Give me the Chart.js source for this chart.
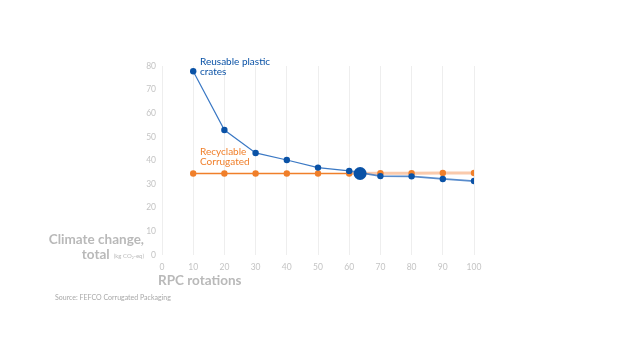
<!DOCTYPE html>
<html><head><meta charset="utf-8">
<script src="https://cdn.jsdelivr.net/npm/chart.js@4"></script>
<style>html,body{margin:0;padding:0;background:#fff;}#wrap{position:relative;width:640px;height:360px;}</style>
</head><body><div id="wrap"><canvas id="c" width="640" height="360"></canvas></div>
<script>
const rotations = [10,20,30,40,50,60,70,80,90,100];
const reusable = [77.8,52.9,43.2,40.2,37.0,35.6,33.4,33.3,32.2,31.3];
const corrugated = [34.5,34.5,34.5,34.5,34.5,34.5,34.6,34.6,34.7,34.7];
const breakEven = [63.5, 34.5];
const yTicks = [0,10,20,30,40,50,60,70,80];
const xTicks = [0,10,20,30,40,50,60,70,80,90,100];

const BLUE = '#0a52a6', ORANGE = '#f07f2a', GREY = '#c4c4c4';
const FONT = 'Lato, "Open Sans", sans-serif';

const textPlugin = {
  id: 'texts',
  afterDraw(chart) {
    const c = chart.ctx;
    c.save();
    c.textBaseline = 'middle';
    c.font = '10px ' + FONT;
    c.fillStyle = BLUE; c.textAlign = 'left';
    c.fillText('Reusable plastic', 200, 62);
    c.fillText('crates', 200, 72);
    c.fillStyle = ORANGE;
    c.fillText('Recyclable', 200, 152);
    c.fillText('Corrugated', 200, 162);
    c.fillStyle = '#b9b9b9';
    c.font = 'bold 13.5px ' + FONT;
    c.textAlign = 'right';
    c.fillText('Climate change,', 144, 240);
    c.font = '6px ' + FONT;
    const sub = '(kg CO\u2082-eq)';
    const sw = c.measureText(sub).width;
    c.fillText(sub, 144, 256);
    c.font = 'bold 13.5px ' + FONT;
    c.fillText('total', 144 - sw - 4, 255);
    c.textAlign = 'left';
    c.fillText('RPC rotations', 158, 281);
    c.font = '7px ' + FONT;
    c.fillStyle = '#a8a8a8';
    c.fillText('Source: FEFCO Corrugated Packaging', 55, 298);
    c.restore();
  }
};

new Chart(document.getElementById('c'), {
  type: 'line',
  data: {
    datasets: [
      {
        label: 'Break-even',
        data: [{x: breakEven[0], y: breakEven[1]}],
        showLine: false, pointRadius: 6.5, pointBackgroundColor: BLUE, pointBorderWidth: 0,
        order: 0
      },
      {
        label: 'Reusable plastic crates',
        data: rotations.map((r,i)=>({x:r, y:reusable[i]})),
        borderColor: '#3a78c4', borderWidth: 1.2, tension: 0,
        pointRadius: 3.2, pointBackgroundColor: BLUE, pointBorderColor: BLUE, pointBorderWidth: 0,
        segment: { borderColor: ctx => ctx.p0DataIndex >= 5 ? 'rgba(60,120,195,0.85)' : '#3a78c4',
                   borderWidth: ctx => ctx.p0DataIndex >= 5 ? 1.7 : 1.2 },
        order: 1
      },
      {
        label: 'Recyclable Corrugated',
        data: rotations.map((r,i)=>({x:r, y:corrugated[i]})),
        borderColor: ORANGE, borderWidth: 1.4, tension: 0,
        pointRadius: 3.2, pointBackgroundColor: ORANGE, pointBorderColor: ORANGE, pointBorderWidth: 0,
        segment: { borderColor: ctx => ctx.p0DataIndex >= 5 ? 'rgba(245,150,90,0.5)' : ORANGE,
                   borderWidth: ctx => ctx.p0DataIndex >= 5 ? 3 : 1.4 },
        order: 2
      }
    ]
  },
  options: {
    responsive: false, animation: false,
    layout: { padding: { left: 122, right: 166, top: 66, bottom: 85 } },
    plugins: { legend: { display: false }, tooltip: { enabled: false } },
    scales: {
      x: {
        type: 'linear', min: 0, max: 100,
        afterBuildTicks: s => { s.ticks = xTicks.map(v => ({value: v})); },
        afterFit: s => { s.height = 20; },
        grid: { color: '#eeeeee', drawTicks: false, lineWidth: 1 },
        border: { display: false },
        ticks: { color: GREY, font: { size: 8.5, family: FONT }, padding: 7, maxRotation: 0 }
      },
      y: {
        min: 0, max: 80,
        afterBuildTicks: s => { s.ticks = yTicks.map(v => ({value: v})); },
        afterFit: s => { s.width = 40; },
        grid: { display: false, drawTicks: false },
        border: { display: false },
        ticks: { color: GREY, font: { size: 8.5, family: FONT }, padding: 6 }
      }
    }
  },
  plugins: [textPlugin]
});
</script></body></html>
